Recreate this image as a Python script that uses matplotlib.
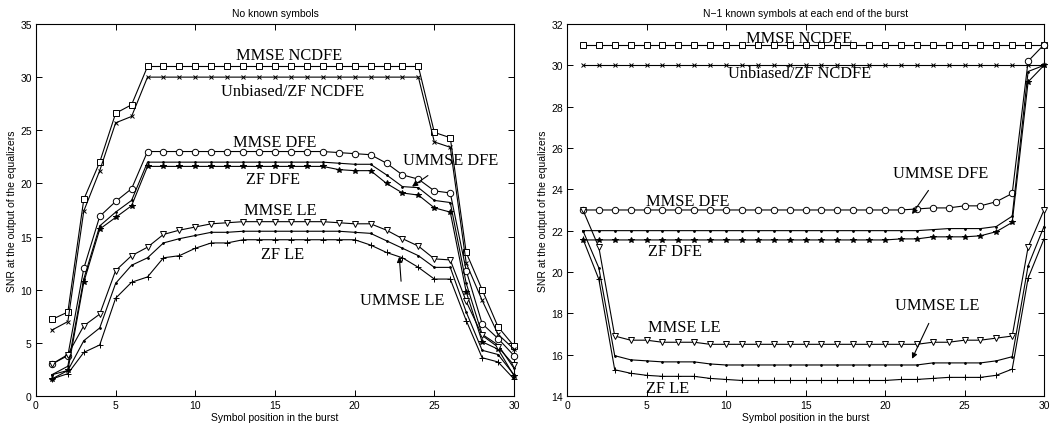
import numpy as np
import matplotlib
matplotlib.use("Agg")
import matplotlib.pyplot as plt

x = list(range(1, 31))

# ---- Left panel: No known symbols ----
L_mmse_ncdfe = [7.2, 7.9, 18.5, 22.0, 26.6, 27.4] + [31.0] * 18 + [24.8, 24.3, 13.5, 10.0, 6.5, 4.7]
L_zf_ncdfe = [6.2, 7.0, 17.4, 21.2, 25.7, 26.3] + [30.0] * 18 + [23.9, 23.4, 12.5, 9.0, 5.8, 4.4]
L_mmse_dfe = [3.0, 3.8, 12.0, 16.9, 18.3, 19.5, 23.0, 23.0, 23.0, 23.0, 23.0, 23.0, 23.0, 23.0,
              23.0, 23.0, 23.0, 23.0, 22.9, 22.8, 22.7, 21.9, 20.8, 20.4, 19.3, 19.1, 11.8, 6.8, 5.4, 3.8]
L_ummse_dfe = [2.0, 2.8, 11.0, 16.0, 17.3, 18.4, 22.0, 22.0, 22.0, 22.0, 22.0, 22.0, 22.0, 22.0,
               22.0, 22.0, 22.0, 22.0, 21.9, 21.8, 21.8, 20.8, 19.7, 19.6, 18.4, 18.2, 10.6, 5.8, 4.8, 2.6]
L_zf_dfe = [1.6, 2.4, 10.7, 15.7, 16.8, 17.9, 21.6, 21.6, 21.6, 21.6, 21.6, 21.6, 21.6, 21.6,
            21.6, 21.6, 21.6, 21.6, 21.3, 21.2, 21.2, 20.0, 19.1, 18.9, 17.7, 17.3, 9.8, 5.1, 4.4, 1.9]
L_mmse_le = [3.0, 3.9, 6.6, 7.7, 11.8, 13.2, 14.0, 15.2, 15.6, 15.9, 16.2, 16.3, 16.4, 16.4,
             16.4, 16.4, 16.4, 16.4, 16.3, 16.2, 16.2, 15.6, 14.8, 14.1, 12.9, 12.8, 8.9, 5.7, 4.6, 2.9]
L_ummse_le = [2.0, 2.4, 5.2, 6.4, 10.6, 12.3, 13.0, 14.4, 14.8, 15.1, 15.4, 15.4, 15.5, 15.5,
              15.5, 15.5, 15.5, 15.5, 15.5, 15.4, 15.3, 14.6, 13.9, 13.2, 12.1, 12.1, 7.9, 4.3, 3.9, 2.0]
L_zf_le = [1.6, 2.1, 4.1, 4.8, 9.2, 10.7, 11.2, 13.0, 13.2, 13.9, 14.4, 14.4, 14.7, 14.7,
           14.7, 14.7, 14.7, 14.7, 14.7, 14.7, 14.2, 13.5, 13.0, 12.1, 11.0, 11.0, 7.1, 3.6, 3.2, 1.6]

# ---- Right panel: N-1 known symbols at each end ----
R_mmse_ncdfe = [31.0] * 30
R_zf_ncdfe = [30.0] * 30
R_mmse_dfe = [23.0] * 21 + [23.05, 23.1, 23.1, 23.2, 23.2, 23.4, 23.8, 30.2, 31.0]
R_ummse_dfe = [22.0] * 22 + [22.05, 22.1, 22.1, 22.1, 22.2, 22.7, 29.7, 30.0]
R_zf_dfe = [21.55] * 20 + [21.6, 21.6, 21.7, 21.7, 21.7, 21.75, 21.95, 22.4, 29.2, 30.0]
R_mmse_le = [23.0, 21.2, 16.9, 16.7, 16.7, 16.6, 16.6, 16.6, 16.5, 16.5, 16.5, 16.5, 16.5, 16.5,
             16.5, 16.5, 16.5, 16.5, 16.5, 16.5, 16.5, 16.5, 16.6, 16.6, 16.7, 16.7, 16.8, 16.9, 21.2, 23.0]
R_ummse_le = [22.0, 20.2, 15.95, 15.75, 15.7, 15.65, 15.65, 15.65, 15.55, 15.5, 15.5, 15.5, 15.5, 15.5,
              15.5, 15.5, 15.5, 15.5, 15.5, 15.5, 15.5, 15.5, 15.6, 15.6, 15.6, 15.6, 15.7, 15.9, 20.3, 22.2]
R_zf_le = [21.6, 19.65, 15.27, 15.1, 15.0, 14.95, 14.95, 14.95, 14.85, 14.8, 14.75, 14.75, 14.75, 14.75,
           14.75, 14.75, 14.75, 14.75, 14.75, 14.75, 14.8, 14.8, 14.85, 14.9, 14.9, 14.9, 15.0, 15.3, 19.7, 21.6]

titles = ["No known symbols", "N\u22121 known symbols at each end of the burst"]
xlabel = "Symbol position in the burst"
ylabel = "SNR at the output of the equalizers"

SANS = ["Liberation Sans", "DejaVu Sans"]
SERIF = ["Liberation Serif", "DejaVu Serif"]

fig = plt.figure(figsize=(10.52, 4.27), dpi=100)
axL = fig.add_axes([0.0342, 0.0703, 0.4544, 0.8712])
axR = fig.add_axes([0.539, 0.0703, 0.4534, 0.8712])

def series(ax, y, marker, ms=5, mfc="white", mew=0.7):
    ax.plot(x, y, color="black", lw=0.8, marker=marker, ms=ms,
            mfc=mfc, mec="black", mew=mew, clip_on=False, zorder=3)

for ax, data in [(axL, [L_mmse_ncdfe, L_zf_ncdfe, L_mmse_dfe, L_ummse_dfe, L_zf_dfe,
                        L_mmse_le, L_ummse_le, L_zf_le]),
                 (axR, [R_mmse_ncdfe, R_zf_ncdfe, R_mmse_dfe, R_ummse_dfe, R_zf_dfe,
                        R_mmse_le, R_ummse_le, R_zf_le])]:
    series(ax, data[0], "s", ms=3.8)
    series(ax, data[1], "x", ms=3.2)
    series(ax, data[2], "o", ms=4.6)
    series(ax, data[3], ".", ms=2.5, mfc="black")
    series(ax, data[4], "*", ms=4.2, mfc="black")
    series(ax, data[5], "v", ms=4.8)
    series(ax, data[6], ".", ms=2.5, mfc="black")
    series(ax, data[7], "+", ms=5)

for ax, t in [(axL, titles[0]), (axR, titles[1])]:
    ax.set_xlim(0, 30)
    ax.set_xticks(range(0, 31, 5))
    ax.tick_params(direction="in", top=True, right=True, length=4, width=0.7,
                   labelsize=7.5, pad=3)
    for s in ax.spines.values():
        s.set_linewidth(0.8)
    ax.set_title(t, fontsize=7.5, family=SANS, pad=6)
    ax.set_xlabel(xlabel, fontsize=7.5, family=SANS, labelpad=1)
    ax.set_ylabel(ylabel, fontsize=7.5, family=SANS, labelpad=2)

axL.set_ylim(0, 35)
axL.set_yticks(range(0, 36, 5))
axR.set_ylim(14, 32)
axR.set_yticks(range(14, 33, 2))
for ax in (axL, axR):
    for lbl in ax.get_xticklabels() + ax.get_yticklabels():
        lbl.set_family(SANS)

tk = dict(fontsize=11.8, family=SERIF, ha="center", va="center")
ap = dict(arrowstyle="-|>", color="black", lw=0.8, shrinkA=6, shrinkB=0, mutation_scale=8)
# Left labels
axL.text(15.9, 32.1, "MMSE NCDFE", **tk)
axL.text(16.1, 28.7, "Unbiased/ZF NCDFE", **tk)
axL.text(15.0, 23.9, "MMSE DFE", **tk)
axL.text(14.9, 20.4, "ZF DFE", **tk)
axL.text(15.3, 17.5, "MMSE LE", **tk)
axL.text(15.5, 13.4, "ZF LE", **tk)
axL.annotate("UMMSE DFE", xy=(23.6, 19.7), xytext=(26.0, 22.2), arrowprops=ap, **tk)
axL.annotate("UMMSE LE", xy=(22.8, 13.1), xytext=(23.0, 9.0), arrowprops=ap, **tk)
# Right labels
axR.text(14.6, 31.3, "MMSE NCDFE", **tk)
axR.text(14.65, 29.65, "Unbiased/ZF NCDFE", **tk)
axR.text(7.6, 23.45, "MMSE DFE", **tk)
axR.text(6.8, 21.0, "ZF DFE", **tk)
axR.text(7.4, 17.35, "MMSE LE", **tk)
axR.text(6.3, 14.4, "ZF LE", **tk)
axR.annotate("UMMSE DFE", xy=(21.7, 22.8), xytext=(23.5, 24.8), arrowprops=ap, **tk)
axR.annotate("UMMSE LE", xy=(21.7, 15.8), xytext=(23.3, 18.4), arrowprops=ap, **tk)

fig.savefig("out.png", dpi=100)
